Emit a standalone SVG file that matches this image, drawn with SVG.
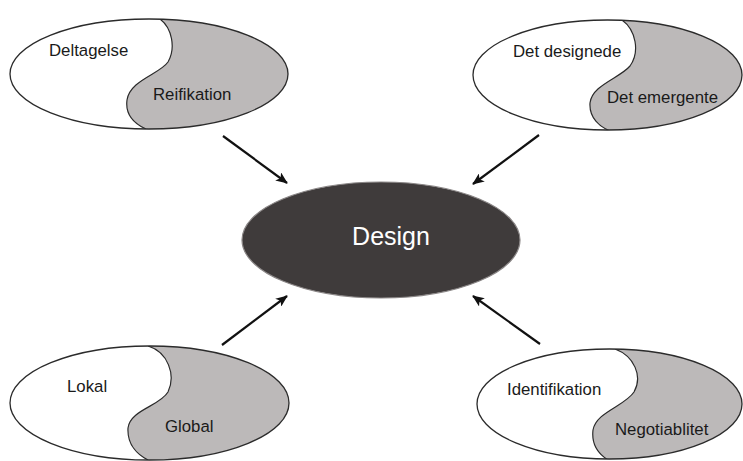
<svg xmlns="http://www.w3.org/2000/svg" width="743" height="461" viewBox="0 0 743 461">
<defs>
<style>
.bg{fill:#ffffff}
.white{fill:#ffffff}
.gray{fill:#bcb9b9}
.outline{fill:none;stroke:#2b2b2b;stroke-width:1.3}
.split{fill:none;stroke:#2b2b2b;stroke-width:1.2}
.lbl{font-family:"Liberation Sans",Arial,sans-serif;font-size:16.8px;fill:#1a1a1a}
.center{fill:#3f3b3b;stroke:#8a8686;stroke-width:1.2}
.ctext{font-family:"Liberation Sans",Arial,sans-serif;font-size:25px;fill:#ffffff}
.conn{stroke:#111111;stroke-width:2.2;fill:none}
</style>
<marker id="arrow" viewBox="0 0 12 10" refX="11" refY="5" markerWidth="12" markerHeight="10" markerUnits="userSpaceOnUse" orient="auto">
<path d="M0,0 L12,5 L0,10 L3,5 Z" fill="#111111"/>
</marker>
<clipPath id="cTL"><ellipse cx="149" cy="74" rx="139" ry="55"/></clipPath>
<clipPath id="cTR"><ellipse cx="607.5" cy="75" rx="134.5" ry="55"/></clipPath>
<clipPath id="cBL"><ellipse cx="149.5" cy="403" rx="139.5" ry="57"/></clipPath>
<clipPath id="cBR"><ellipse cx="609.5" cy="404" rx="132.5" ry="55"/></clipPath>
</defs>
<rect class="bg" x="0" y="0" width="743" height="461"/>

<g id="node-deltagelse-reifikation">
<ellipse class="white" cx="149" cy="74" rx="139" ry="55"/>
<path class="gray" clip-path="url(#cTL)" d="M160,19 C172,28 176,48 168,62 C160,74 130,80 127,100 C125,115 135,124 146,129 L146,140 L300,140 L300,0 L160,0 Z"/>
<path class="split" clip-path="url(#cTL)" d="M160,19 C172,28 176,48 168,62 C160,74 130,80 127,100 C125,115 135,124 146,129"/>
<ellipse class="outline" cx="149" cy="74" rx="139" ry="55"/>
<text class="lbl" x="49" y="56">Deltagelse</text>
<text class="lbl" x="153" y="100">Reifikation</text>
</g>

<g id="node-designede-emergente">
<ellipse class="white" cx="607.5" cy="75" rx="134.5" ry="55"/>
<path class="gray" clip-path="url(#cTR)" d="M622,20 C636,30 640,52 630,66 C620,78 592,85 590,103 C589,118 600,127 610,131 L610,140 L743,140 L743,0 L622,0 Z"/>
<path class="split" clip-path="url(#cTR)" d="M622,20 C636,30 640,52 630,66 C620,78 592,85 590,103 C589,118 600,127 610,131"/>
<ellipse class="outline" cx="607.5" cy="75" rx="134.5" ry="55"/>
<text class="lbl" x="513" y="57">Det designede</text>
<text class="lbl" x="607" y="103">Det emergente</text>
</g>

<g id="node-lokal-global">
<ellipse class="white" cx="149.5" cy="403" rx="139.5" ry="57"/>
<path class="gray" clip-path="url(#cBL)" d="M148,346 C168,352 176,375 168,392 C160,406 130,410 128,428 C127,445 138,455 148,460 L148,470 L300,470 L300,330 L148,330 Z"/>
<path class="split" clip-path="url(#cBL)" d="M148,346 C168,352 176,375 168,392 C160,406 130,410 128,428 C127,445 138,455 148,460"/>
<ellipse class="outline" cx="149.5" cy="403" rx="139.5" ry="57"/>
<text class="lbl" x="67" y="392">Lokal</text>
<text class="lbl" x="165" y="432">Global</text>
</g>

<g id="node-identifikation-negotiablitet">
<ellipse class="white" cx="609.5" cy="404" rx="132.5" ry="55"/>
<path class="gray" clip-path="url(#cBR)" d="M615,349 C634,356 643,376 634,392 C625,406 596,412 593,430 C591,447 600,455 608,460 L608,470 L743,470 L743,330 L615,330 Z"/>
<path class="split" clip-path="url(#cBR)" d="M615,349 C634,356 643,376 634,392 C625,406 596,412 593,430 C591,447 600,455 608,460"/>
<ellipse class="outline" cx="609.5" cy="404" rx="132.5" ry="55"/>
<text class="lbl" x="507" y="395">Identifikation</text>
<text class="lbl" x="615" y="435">Negotiablitet</text>
</g>

<g id="node-design">
<ellipse class="center" cx="381" cy="240" rx="139" ry="58"/>
<text class="ctext" x="391" y="245" text-anchor="middle">Design</text>
</g>

<g id="connectors">
<line class="conn" x1="223" y1="136" x2="287" y2="183" marker-end="url(#arrow)"/>
<line class="conn" x1="539" y1="135" x2="473" y2="184" marker-end="url(#arrow)"/>
<line class="conn" x1="222" y1="345" x2="287" y2="296" marker-end="url(#arrow)"/>
<line class="conn" x1="540" y1="344" x2="473" y2="296" marker-end="url(#arrow)"/>
</g>
</svg>
